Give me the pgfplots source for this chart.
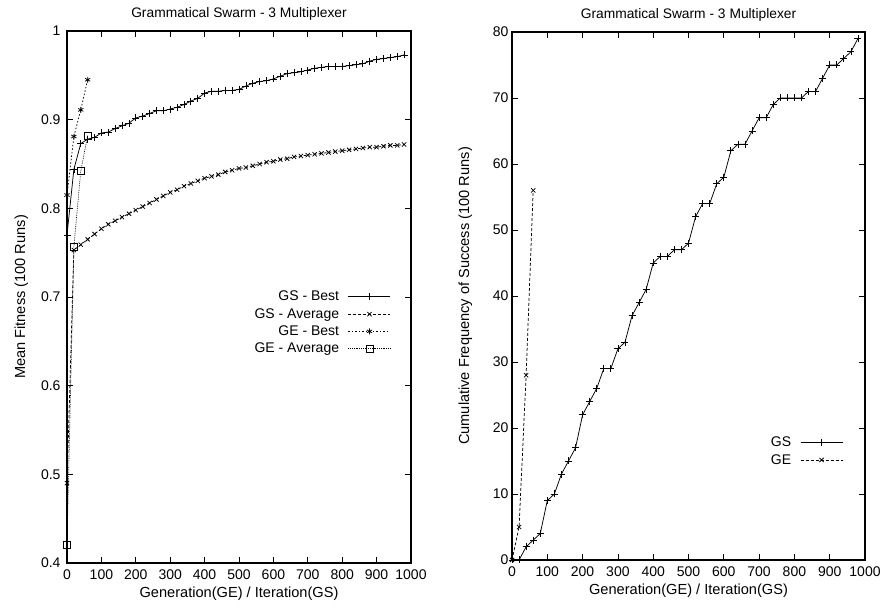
\documentclass[border=0pt]{standalone}
\usepackage{pgfplots}
\pgfplotsset{compat=1.18}
\usepackage{pgfplotstable}
\usepackage{fontspec}
\setmainfont{Liberation Sans}
\usetikzlibrary{plotmarks}

% GS: iteration, best, average   (GE plotted separately below)
\pgfplotstableread{
it   best   avg
0    0.770  0.490
20   0.844  0.753
40   0.873  0.759
60   0.878  0.765
80   0.880  0.771
100  0.885  0.777
120  0.886  0.782
140  0.890  0.786
160  0.893  0.790
180  0.896  0.794
200  0.902  0.798
220  0.904  0.802
240  0.907  0.806
260  0.910  0.810
280  0.910  0.814
300  0.912  0.818
320  0.914  0.821
340  0.917  0.825
360  0.921  0.828
380  0.924  0.831
400  0.930  0.834
420  0.932  0.836
440  0.932  0.838
460  0.933  0.841
480  0.933  0.843
500  0.934  0.845
520  0.938  0.846
540  0.941  0.848
560  0.943  0.850
580  0.944  0.852
600  0.946  0.853
620  0.949  0.855
640  0.952  0.856
660  0.953  0.858
680  0.954  0.859
700  0.956  0.860
720  0.958  0.861
740  0.959  0.862
760  0.960  0.863
780  0.960  0.864
800  0.960  0.865
820  0.961  0.866
840  0.962  0.867
860  0.963  0.868
880  0.966  0.869
900  0.968  0.869
920  0.969  0.870
940  0.970  0.871
960  0.971  0.871
980  0.973  0.872
}\gsfit

\pgfplotstableread{
gen  best   avg
0    0.815  0.420
20   0.881  0.757
40   0.911  0.842
60   0.945  0.882
}\gefit

\pgfplotstableread{
it   succ
0    0
20   0
40   2
60   3
80   4
100  9
120  10
140  13
160  15
180  17
200  22
220  24
240  26
260  29
280  29
300  32
320  33
340  37
360  39
380  41
400  45
420  46
440  46
460  47
480  47
500  48
520  52
540  54
560  54
580  57
600  58
620  62
640  63
660  63
680  65
700  67
720  67
740  69
760  70
780  70
800  70
820  70
840  71
860  71
880  73
900  75
920  75
940  76
960  77
980  79
}\gssucc

\pgfplotstableread{
gen  succ
0    0
20   5
40   28
60   56
}\gesucc

\pgfplotsset{
  gnu/.style={
    scale only axis,
    xmin=0, xmax=1000,
    xtick={0,100,...,1000},
    tick align=inside,
    major tick length=6pt,
    axis line style={line width=1.1pt},
    every tick/.style={line width=0.8pt, black},
    tick label style={font=\fontsize{14}{16}\selectfont},
    xticklabel shift=3pt,
    xlabel shift=1pt,
    /pgf/number format/assume math mode=true,
    /pgf/number format/1000 sep={},
    title style={font=\fontsize{13.8}{16}\selectfont, yshift=1pt},
    label style={font=\fontsize{14.6}{17}\selectfont},
    legend style={draw=none, fill=none, inner sep=0pt,
      font=\fontsize{14}{16}\selectfont, row sep=2pt,
      /tikz/every odd column/.append style={column sep=7pt}},
    legend cell align=right,
    legend plot pos=right,
    legend image code/.code={
      \draw[mark repeat=2, mark phase=2] plot coordinates {(0pt,0pt) (21pt,0pt) (42pt,0pt)};
    },
  },
}

\begin{document}
\begin{tikzpicture}
\useasboundingbox (0pt,0pt) rectangle (891pt,612pt);

\begin{axis}[gnu,
  at={(67pt,49pt)}, anchor=south west,
  width=344pt, height=532pt,
  ymin=0.4, ymax=1,
  ytick={0.4,0.5,...,1.0},
  yticklabels={0.4,0.5,0.6,0.7,0.8,0.9,1},
  yticklabel shift=3pt,
  ylabel shift=6pt,
  title={Grammatical Swarm - 3 Multiplexer},
  xlabel={Generation(GE) / Iteration(GS)},
  ylabel={Mean Fitness (100 Runs)},
  legend style={at={(0.942,0.515)}, anchor=north east},
]
\addplot[black, line width=0.75pt, mark=+, mark size=3.5pt] table[x=it, y=best] {\gsfit};
\addlegendentry{GS - Best}
\addplot[black, line width=0.75pt, dash pattern=on 3pt off 2pt, mark=x, mark size=3pt,
  mark options={solid}] table[x=it, y=avg] {\gsfit};
\addlegendentry{GS - Average}
\addplot[black, line width=0.75pt, dash pattern=on 1.5pt off 2pt, mark=asterisk, mark size=3pt,
  mark options={solid}] table[x=gen, y=best] {\gefit};
\addlegendentry{GE - Best}
\addplot[black, line width=0.65pt, dash pattern=on 0.8pt off 1pt, mark=square, mark size=3.5pt,
  mark options={solid}] table[x=gen, y=avg] {\gefit};
\addlegendentry{GE - Average}
\end{axis}

\begin{axis}[gnu,
  at={(512pt,52pt)}, anchor=south west,
  width=353pt, height=528pt,
  ymin=0, ymax=80,
  ytick={0,10,...,80},
  ylabel shift=14pt,
  title={Grammatical Swarm - 3 Multiplexer},
  xlabel={Generation(GE) / Iteration(GS)},
  ylabel={Cumulative Frequency of Success (100 Runs)},
  legend style={at={(0.938,0.237)}, anchor=north east},
]
\addplot[black, line width=0.75pt, mark=+, mark size=3.5pt] table[x=it, y=succ] {\gssucc};
\addlegendentry{GS}
\addplot[black, line width=0.75pt, dash pattern=on 3pt off 2pt, mark=x, mark size=3pt,
  mark options={solid}] table[x=gen, y=succ] {\gesucc};
\addlegendentry{GE}
\end{axis}
\end{tikzpicture}
\end{document}
